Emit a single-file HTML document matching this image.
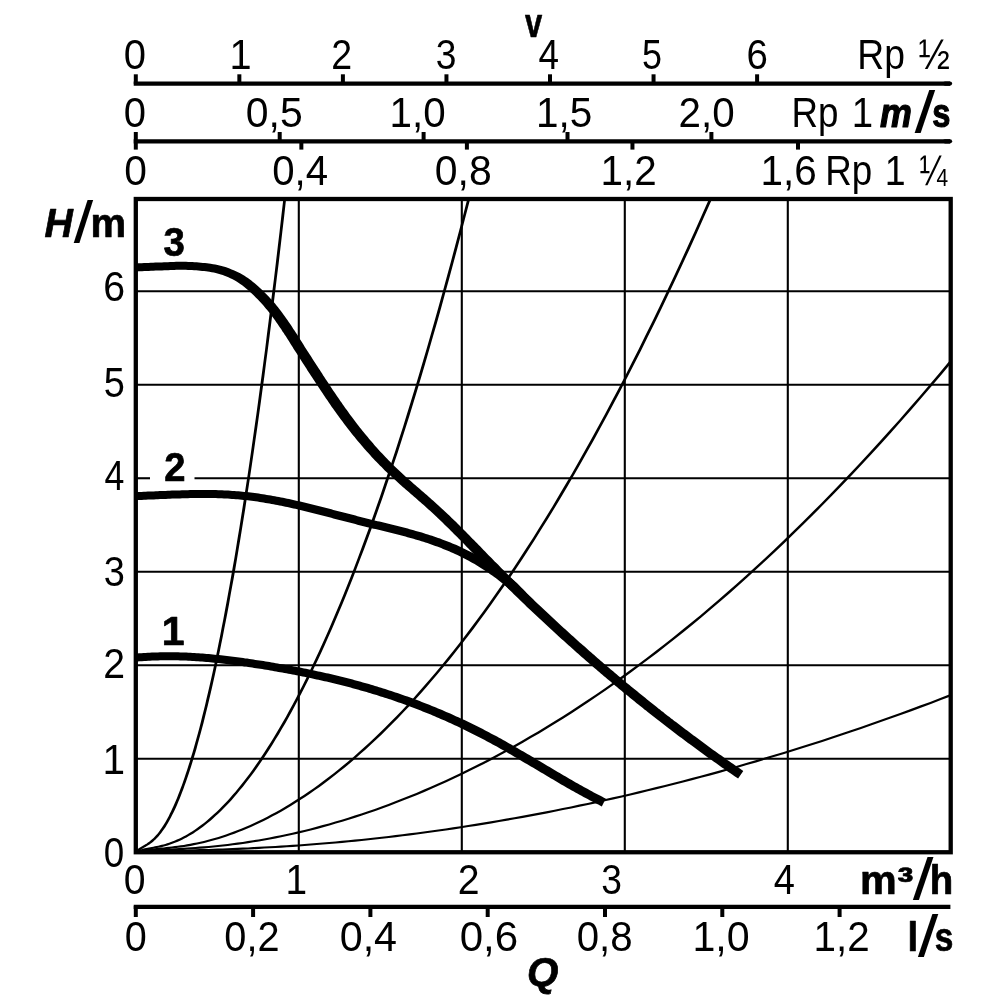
<!DOCTYPE html>
<html lang="de"><head><meta charset="utf-8"><title>Pumpenkennlinie</title>
<style>html,body{margin:0;padding:0;background:#fff}svg{display:block}text{font-family:"Liberation Sans",sans-serif;fill:#000;white-space:pre}.n{font-size:41px}.b{font-weight:bold}.bi{font-weight:bold;font-style:italic}.b,.bi{stroke:#000;stroke-width:.7px;stroke-linejoin:round}.h{stroke-width:1.2px}.sl{stroke-width:0}</style></head><body>
<svg width="1000" height="1000" viewBox="0 0 1000 1000">
<rect width="1000" height="1000" fill="#fff"/>
<g stroke="#000" stroke-width="2.1" fill="none">
<line x1="298.80" y1="199.00" x2="298.80" y2="852.25"/>
<line x1="461.80" y1="199.00" x2="461.80" y2="852.25"/>
<line x1="624.80" y1="199.00" x2="624.80" y2="852.25"/>
<line x1="787.80" y1="199.00" x2="787.80" y2="852.25"/>
<line x1="135.80" y1="758.75" x2="950.70" y2="758.75"/>
<line x1="135.80" y1="665.25" x2="950.70" y2="665.25"/>
<line x1="135.80" y1="571.75" x2="950.70" y2="571.75"/>
<line x1="135.80" y1="384.75" x2="950.70" y2="384.75"/>
<line x1="135.80" y1="291.25" x2="950.70" y2="291.25"/>
<line x1="135.80" y1="478.25" x2="150" y2="478.25"/>
<line x1="194.5" y1="478.25" x2="950.70" y2="478.25"/>
</g>
<g fill="#000" stroke="none">
<path d="M136.7,853.1 L136.8,853.0 L137.0,852.8 L137.2,852.6 L137.5,852.3 L137.9,852.0 L138.2,851.7 L138.6,851.3 L139.1,851.0 L139.5,850.6 L140.0,850.3 L140.6,849.9 L141.1,849.6 L141.7,849.2 L142.3,848.8 L143.0,848.4 L143.6,848.0 L144.3,847.6 L145.0,847.2 L145.8,846.8 L146.5,846.3 L147.3,845.8 L148.1,845.3 L149.0,844.8 L149.8,844.2 L150.7,843.6 L151.5,842.9 L152.5,842.2 L153.4,841.4 L154.3,840.6 L155.3,839.7 L156.2,838.8 L157.2,837.8 L158.2,836.7 L159.2,835.5 L160.2,834.3 L161.3,833.0 L162.3,831.6 L163.4,830.1 L164.5,828.5 L165.6,826.9 L166.7,825.1 L167.8,823.3 L168.9,821.3 L170.0,819.2 L171.2,817.1 L172.3,814.8 L173.5,812.5 L174.7,810.0 L175.9,807.4 L177.1,804.7 L178.3,801.8 L179.5,798.9 L180.8,795.8 L182.0,792.6 L183.3,789.3 L184.5,785.8 L185.8,782.3 L187.1,778.6 L188.4,774.7 L189.7,770.7 L191.1,766.6 L192.4,762.3 L193.7,757.9 L195.1,753.4 L196.5,748.7 L197.8,743.8 L199.2,738.8 L200.6,733.7 L202.0,728.4 L203.5,722.9 L204.9,717.3 L206.3,711.5 L207.8,705.6 L209.2,699.4 L210.7,693.2 L212.2,686.7 L213.7,680.1 L215.2,673.3 L216.7,666.3 L218.2,659.1 L219.7,651.8 L221.2,644.3 L222.8,636.5 L224.3,628.6 L225.9,620.5 L227.5,612.3 L229.1,603.8 L230.6,595.1 L232.2,586.2 L233.9,577.2 L235.5,567.9 L237.1,558.4 L238.7,548.7 L240.4,538.8 L242.0,528.7 L243.7,518.3 L245.4,507.8 L247.0,497.0 L248.7,486.0 L250.4,474.8 L252.1,463.3 L253.8,451.7 L255.5,439.7 L257.3,427.6 L259.0,415.2 L260.8,402.6 L262.5,389.8 L264.3,376.7 L266.0,363.3 L267.8,349.7 L269.6,335.9 L271.4,321.8 L273.2,307.5 L275.0,292.9 L276.8,278.0 L278.7,262.9 L280.5,247.5 L282.3,231.9 L284.2,216.0 L286.0,199.8 L283.3,199.5 L281.4,215.6 L279.6,231.5 L277.7,247.2 L275.9,262.6 L274.1,277.7 L272.2,292.5 L270.4,307.1 L268.6,321.5 L266.8,335.5 L265.1,349.4 L263.3,363.0 L261.5,376.3 L259.7,389.4 L258.0,402.2 L256.3,414.8 L254.5,427.2 L252.8,439.3 L251.1,451.3 L249.4,462.9 L247.7,474.4 L246.0,485.6 L244.3,496.6 L242.6,507.3 L240.9,517.9 L239.3,528.2 L237.6,538.3 L236.0,548.2 L234.4,557.9 L232.7,567.4 L231.1,576.7 L229.5,585.7 L227.9,594.6 L226.3,603.3 L224.7,611.7 L223.2,620.0 L221.6,628.1 L220.1,636.0 L218.5,643.7 L217.0,651.2 L215.5,658.6 L214.0,665.7 L212.5,672.7 L211.0,679.5 L209.5,686.1 L208.0,692.5 L206.5,698.8 L205.1,704.9 L203.6,710.9 L202.2,716.6 L200.8,722.2 L199.4,727.7 L198.0,733.0 L196.6,738.1 L195.2,743.1 L193.8,747.9 L192.5,752.6 L191.1,757.1 L189.8,761.5 L188.4,765.8 L187.1,769.9 L185.8,773.8 L184.5,777.7 L183.2,781.4 L182.0,784.9 L180.7,788.3 L179.5,791.6 L178.2,794.8 L177.0,797.9 L175.8,800.8 L174.6,803.6 L173.4,806.3 L172.2,808.8 L171.1,811.3 L169.9,813.6 L168.8,815.9 L167.7,818.0 L166.6,820.0 L165.5,821.9 L164.4,823.7 L163.3,825.5 L162.3,827.1 L161.3,828.6 L160.2,830.1 L159.2,831.4 L158.3,832.7 L157.3,833.9 L156.3,835.0 L155.4,836.1 L154.5,837.0 L153.6,838.0 L152.7,838.8 L151.8,839.6 L150.9,840.3 L150.1,841.0 L149.2,841.7 L148.4,842.3 L147.6,842.8 L146.8,843.4 L146.1,843.9 L145.3,844.3 L144.6,844.8 L143.9,845.2 L143.2,845.6 L142.5,846.1 L141.8,846.4 L141.1,846.8 L140.5,847.2 L139.9,847.6 L139.3,848.0 L138.7,848.3 L138.2,848.7 L137.7,849.1 L137.2,849.5 L136.7,849.8 L136.3,850.2 L135.9,850.5 L135.6,850.8 L135.3,851.0 L135.0,851.3 L134.9,851.4Z"/>
<path d="M136.3,853.3 L136.5,853.2 L137.0,853.0 L137.5,852.7 L138.2,852.4 L139.0,852.1 L139.9,851.8 L140.8,851.5 L141.8,851.3 L142.9,851.0 L144.0,850.7 L145.3,850.4 L146.5,850.1 L147.9,849.9 L149.3,849.6 L150.7,849.3 L152.2,849.0 L153.7,848.7 L155.3,848.4 L157.0,848.1 L158.7,847.7 L160.4,847.4 L162.2,846.9 L164.0,846.5 L165.9,845.9 L167.8,845.4 L169.7,844.8 L171.7,844.1 L173.7,843.3 L175.7,842.5 L177.8,841.7 L180.0,840.7 L182.1,839.7 L184.3,838.6 L186.5,837.4 L188.8,836.1 L191.1,834.8 L193.4,833.4 L195.7,831.8 L198.1,830.2 L200.5,828.5 L203.0,826.7 L205.4,824.8 L207.9,822.8 L210.5,820.7 L213.0,818.4 L215.6,816.1 L218.2,813.7 L220.8,811.2 L223.5,808.5 L226.2,805.7 L228.9,802.9 L231.7,799.9 L234.4,796.8 L237.2,793.5 L240.0,790.1 L242.9,786.7 L245.7,783.0 L248.6,779.3 L251.5,775.4 L254.5,771.4 L257.5,767.2 L260.4,762.9 L263.5,758.5 L266.5,753.9 L269.6,749.2 L272.6,744.4 L275.7,739.3 L278.9,734.2 L282.0,728.8 L285.2,723.4 L288.4,717.7 L291.6,711.9 L294.8,706.0 L298.1,699.8 L301.4,693.5 L304.7,687.1 L308.0,680.4 L311.4,673.6 L314.7,666.6 L318.1,659.4 L321.6,652.1 L325.0,644.6 L328.4,636.8 L331.9,628.9 L335.4,620.8 L338.9,612.5 L342.5,604.1 L346.0,595.4 L349.6,586.5 L353.2,577.4 L356.8,568.1 L360.4,558.6 L364.1,548.9 L367.8,539.0 L371.5,528.9 L375.2,518.6 L378.9,508.0 L382.7,497.2 L386.4,486.2 L390.2,475.0 L394.0,463.6 L397.9,451.9 L401.7,440.0 L405.6,427.8 L409.5,415.4 L413.4,402.8 L417.3,390.0 L421.2,376.9 L425.2,363.5 L429.1,349.9 L433.1,336.1 L437.2,322.0 L441.2,307.7 L445.2,293.1 L449.3,278.2 L453.4,263.1 L457.5,247.7 L461.6,232.1 L465.7,216.1 L469.9,200.0 L467.2,199.3 L463.1,215.5 L458.9,231.4 L454.8,247.0 L450.7,262.4 L446.6,277.5 L442.6,292.3 L438.5,306.9 L434.5,321.3 L430.5,335.3 L426.5,349.2 L422.5,362.8 L418.6,376.1 L414.6,389.2 L410.7,402.0 L406.8,414.6 L403.0,427.0 L399.1,439.1 L395.3,451.0 L391.4,462.7 L387.6,474.1 L383.8,485.3 L380.1,496.3 L376.3,507.1 L372.6,517.6 L368.9,528.0 L365.2,538.1 L361.5,548.0 L357.9,557.7 L354.3,567.2 L350.7,576.4 L347.1,585.5 L343.5,594.4 L340.0,603.0 L336.4,611.5 L332.9,619.8 L329.4,627.9 L326.0,635.8 L322.5,643.5 L319.1,651.0 L315.7,658.3 L312.3,665.5 L309.0,672.4 L305.6,679.2 L302.3,685.9 L299.0,692.3 L295.8,698.6 L292.5,704.7 L289.3,710.6 L286.1,716.4 L282.9,722.0 L279.7,727.5 L276.6,732.8 L273.5,738.0 L270.4,743.0 L267.3,747.8 L264.3,752.5 L261.3,757.1 L258.3,761.5 L255.3,765.7 L252.4,769.9 L249.5,773.9 L246.6,777.7 L243.7,781.5 L240.9,785.1 L238.1,788.5 L235.3,791.9 L232.5,795.1 L229.8,798.2 L227.1,801.2 L224.4,804.0 L221.7,806.8 L219.1,809.4 L216.5,811.9 L213.9,814.3 L211.4,816.6 L208.9,818.8 L206.4,820.9 L204.0,822.9 L201.5,824.8 L199.1,826.6 L196.8,828.3 L194.4,829.9 L192.1,831.4 L189.9,832.8 L187.6,834.2 L185.4,835.4 L183.3,836.6 L181.1,837.7 L179.0,838.7 L176.9,839.6 L174.9,840.5 L172.9,841.3 L170.9,842.0 L169.0,842.7 L167.1,843.3 L165.3,843.9 L163.4,844.4 L161.7,844.8 L159.9,845.3 L158.2,845.7 L156.5,846.0 L154.9,846.3 L153.3,846.7 L151.8,847.0 L150.3,847.2 L148.9,847.5 L147.5,847.8 L146.1,848.0 L144.8,848.3 L143.6,848.6 L142.4,848.9 L141.2,849.2 L140.2,849.5 L139.2,849.8 L138.3,850.1 L137.4,850.4 L136.7,850.7 L136.1,850.9 L135.6,851.1 L135.3,851.2Z"/>
<path d="M136.1,853.3 L136.5,853.2 L137.3,853.0 L138.3,852.8 L139.5,852.5 L140.9,852.2 L142.4,852.0 L144.1,851.7 L145.8,851.4 L147.7,851.2 L149.7,850.9 L151.9,850.7 L154.1,850.5 L156.4,850.2 L158.8,850.0 L161.3,849.7 L163.9,849.5 L166.5,849.2 L169.3,848.9 L172.1,848.6 L175.0,848.2 L178.0,847.8 L181.0,847.4 L184.2,846.9 L187.4,846.4 L190.6,845.9 L193.9,845.2 L197.3,844.5 L200.8,843.8 L204.3,843.0 L207.9,842.1 L211.5,841.1 L215.2,840.1 L219.0,839.0 L222.8,837.8 L226.6,836.5 L230.6,835.1 L234.5,833.7 L238.6,832.1 L242.7,830.5 L246.8,828.8 L251.0,826.9 L255.2,825.0 L259.5,823.0 L263.8,820.9 L268.2,818.7 L272.7,816.3 L277.2,813.9 L281.7,811.4 L286.3,808.7 L290.9,805.9 L295.6,803.1 L300.3,800.1 L305.1,796.9 L309.9,793.7 L314.7,790.3 L319.6,786.9 L324.6,783.2 L329.5,779.5 L334.6,775.6 L339.6,771.6 L344.8,767.4 L349.9,763.2 L355.1,758.7 L360.3,754.1 L365.6,749.4 L370.9,744.6 L376.3,739.5 L381.7,734.4 L387.1,729.1 L392.6,723.6 L398.1,717.9 L403.7,712.1 L409.3,706.2 L414.9,700.0 L420.6,693.8 L426.3,687.3 L432.0,680.6 L437.8,673.8 L443.6,666.8 L449.5,659.7 L455.4,652.3 L461.3,644.8 L467.3,637.1 L473.3,629.2 L479.3,621.1 L485.4,612.8 L491.5,604.3 L497.6,595.6 L503.8,586.7 L510.0,577.7 L516.2,568.4 L522.5,558.9 L528.8,549.2 L535.2,539.3 L541.5,529.1 L548.0,518.8 L554.4,508.2 L560.9,497.5 L567.4,486.5 L573.9,475.2 L580.5,463.8 L587.1,452.1 L593.8,440.2 L600.4,428.0 L607.1,415.7 L613.9,403.1 L620.7,390.2 L627.5,377.1 L634.3,363.7 L641.2,350.2 L648.0,336.3 L655.0,322.2 L661.9,307.9 L668.9,293.3 L675.9,278.4 L683.0,263.3 L690.1,247.9 L697.2,232.3 L704.3,216.3 L711.5,200.2 L709.0,199.1 L701.8,215.3 L694.7,231.2 L687.6,246.8 L680.5,262.2 L673.5,277.3 L666.5,292.1 L659.5,306.7 L652.6,321.0 L645.6,335.1 L638.8,349.0 L631.9,362.5 L625.1,375.9 L618.3,389.0 L611.5,401.8 L604.8,414.4 L598.1,426.8 L591.4,438.9 L584.8,450.8 L578.2,462.5 L571.7,473.9 L565.1,485.1 L558.6,496.1 L552.2,506.9 L545.7,517.4 L539.3,527.7 L533.0,537.9 L526.6,547.8 L520.3,557.4 L514.1,566.9 L507.8,576.2 L501.6,585.3 L495.5,594.1 L489.4,602.8 L483.3,611.3 L477.2,619.5 L471.2,627.6 L465.2,635.5 L459.3,643.2 L453.4,650.7 L447.5,658.1 L441.7,665.2 L435.9,672.2 L430.1,679.0 L424.4,685.6 L418.7,692.1 L413.1,698.4 L407.4,704.5 L401.9,710.4 L396.3,716.2 L390.8,721.8 L385.4,727.3 L380.0,732.6 L374.6,737.8 L369.3,742.8 L364.0,747.6 L358.7,752.3 L353.5,756.9 L348.4,761.3 L343.2,765.6 L338.1,769.7 L333.1,773.7 L328.1,777.6 L323.1,781.3 L318.2,784.9 L313.4,788.4 L308.5,791.8 L303.8,795.0 L299.0,798.1 L294.3,801.1 L289.7,804.0 L285.1,806.7 L280.6,809.4 L276.1,811.9 L271.6,814.3 L267.2,816.7 L262.8,818.9 L258.5,821.0 L254.3,823.0 L250.1,824.9 L245.9,826.7 L241.8,828.4 L237.8,830.1 L233.8,831.6 L229.8,833.1 L225.9,834.4 L222.1,835.7 L218.3,836.9 L214.6,838.0 L210.9,839.0 L207.3,840.0 L203.8,840.9 L200.3,841.7 L196.9,842.5 L193.5,843.1 L190.2,843.8 L187.0,844.3 L183.8,844.9 L180.7,845.3 L177.7,845.7 L174.8,846.1 L171.9,846.5 L169.1,846.8 L166.3,847.1 L163.7,847.4 L161.1,847.6 L158.6,847.9 L156.2,848.1 L153.9,848.4 L151.6,848.6 L149.5,848.8 L147.5,849.1 L145.5,849.3 L143.7,849.6 L142.0,849.9 L140.5,850.2 L139.1,850.4 L137.8,850.7 L136.8,850.9 L136.0,851.1 L135.5,851.2Z"/>
<path d="M135.9,853.3 L136.5,853.2 L137.7,853.1 L139.1,852.9 L140.9,852.8 L142.8,852.6 L145.0,852.4 L147.4,852.2 L149.9,852.0 L152.6,851.8 L155.5,851.6 L158.5,851.4 L161.6,851.2 L164.9,851.0 L168.3,850.8 L171.9,850.6 L175.5,850.4 L179.3,850.1 L183.2,849.9 L187.2,849.6 L191.3,849.4 L195.5,849.1 L199.9,848.7 L204.3,848.4 L208.8,848.0 L213.4,847.5 L218.1,847.0 L222.9,846.5 L227.8,846.0 L232.8,845.3 L237.8,844.7 L243.0,844.0 L248.2,843.2 L253.5,842.3 L258.9,841.4 L264.4,840.5 L269.9,839.5 L275.5,838.4 L281.2,837.2 L287.0,836.0 L292.9,834.7 L298.8,833.4 L304.8,831.9 L310.9,830.4 L317.0,828.9 L323.2,827.2 L329.5,825.5 L335.9,823.6 L342.3,821.7 L348.8,819.7 L355.3,817.7 L362.0,815.5 L368.6,813.3 L375.4,810.9 L382.2,808.5 L389.1,806.0 L396.0,803.3 L403.0,800.6 L410.1,797.8 L417.2,794.9 L424.4,791.9 L431.6,788.8 L438.9,785.5 L446.3,782.2 L453.7,778.8 L461.2,775.2 L468.7,771.6 L476.3,767.8 L484.0,763.9 L491.7,759.9 L499.4,755.8 L507.3,751.6 L515.1,747.2 L523.1,742.7 L531.0,738.1 L539.1,733.4 L547.2,728.5 L555.3,723.5 L563.5,718.4 L571.8,713.2 L580.1,707.8 L588.4,702.3 L596.8,696.6 L605.3,690.8 L613.8,684.8 L622.4,678.8 L631.0,672.5 L639.6,666.1 L648.3,659.6 L657.1,652.9 L665.9,646.1 L674.8,639.1 L683.7,632.0 L692.6,624.7 L701.6,617.2 L710.7,609.6 L719.8,601.8 L728.9,593.9 L738.1,585.8 L747.3,577.5 L756.6,569.1 L765.9,560.5 L775.3,551.7 L784.8,542.7 L794.2,533.6 L803.7,524.3 L813.3,514.8 L822.9,505.1 L832.5,495.3 L842.2,485.2 L852.0,475.0 L861.8,464.6 L871.6,454.0 L881.5,443.2 L891.4,432.2 L901.3,421.0 L911.3,409.7 L921.4,398.1 L931.5,386.3 L941.6,374.4 L951.8,362.2 L949.8,360.6 L939.7,372.7 L929.5,384.7 L919.5,396.5 L909.4,408.0 L899.5,419.4 L889.5,430.5 L879.6,441.5 L869.8,452.3 L859.9,462.9 L850.2,473.3 L840.4,483.5 L830.8,493.5 L821.1,503.4 L811.5,513.0 L802.0,522.5 L792.5,531.8 L783.0,540.9 L773.6,549.9 L764.3,558.7 L755.0,567.3 L745.7,575.7 L736.5,584.0 L727.3,592.1 L718.2,600.0 L709.1,607.8 L700.1,615.4 L691.1,622.8 L682.1,630.1 L673.3,637.2 L664.4,644.2 L655.6,651.0 L646.9,657.7 L638.2,664.2 L629.6,670.6 L621.0,676.8 L612.4,682.9 L603.9,688.9 L595.5,694.7 L587.1,700.3 L578.8,705.8 L570.5,711.2 L562.3,716.5 L554.1,721.6 L546.0,726.6 L537.9,731.4 L529.9,736.1 L521.9,740.7 L514.0,745.2 L506.2,749.6 L498.4,753.8 L490.6,757.9 L482.9,761.9 L475.3,765.8 L467.7,769.6 L460.2,773.2 L452.8,776.8 L445.4,780.2 L438.0,783.5 L430.7,786.7 L423.5,789.8 L416.3,792.9 L409.2,795.8 L402.2,798.6 L395.2,801.3 L388.3,803.9 L381.4,806.4 L374.7,808.9 L367.9,811.2 L361.3,813.4 L354.7,815.6 L348.1,817.7 L341.7,819.7 L335.3,821.6 L328.9,823.4 L322.7,825.1 L316.5,826.8 L310.4,828.4 L304.3,829.9 L298.3,831.3 L292.4,832.7 L286.6,833.9 L280.8,835.2 L275.1,836.3 L269.5,837.4 L264.0,838.4 L258.5,839.4 L253.2,840.2 L247.9,841.1 L242.7,841.9 L237.5,842.6 L232.5,843.2 L227.5,843.9 L222.7,844.4 L217.9,844.9 L213.2,845.4 L208.6,845.9 L204.1,846.3 L199.7,846.6 L195.4,847.0 L191.2,847.3 L187.1,847.5 L183.1,847.8 L179.2,848.0 L175.4,848.3 L171.8,848.5 L168.2,848.7 L164.8,848.9 L161.5,849.1 L158.4,849.3 L155.3,849.5 L152.5,849.7 L149.7,849.9 L147.2,850.1 L144.8,850.3 L142.6,850.5 L140.7,850.7 L138.9,850.8 L137.4,851.0 L136.3,851.1 L135.7,851.2Z"/>
<path d="M135.9,853.3 L136.5,853.3 L137.6,853.2 L139.1,853.1 L140.8,853.1 L142.8,853.0 L145.0,852.9 L147.3,852.8 L149.9,852.7 L152.6,852.6 L155.4,852.5 L158.5,852.4 L161.6,852.3 L164.9,852.2 L168.3,852.1 L171.8,852.0 L175.5,851.9 L179.3,851.8 L183.2,851.7 L187.2,851.6 L191.3,851.5 L195.5,851.4 L199.8,851.2 L204.2,851.1 L208.7,851.0 L213.3,850.8 L218.0,850.7 L222.8,850.5 L227.7,850.3 L232.7,850.1 L237.7,849.9 L242.9,849.7 L248.1,849.5 L253.4,849.2 L258.8,848.9 L264.2,848.6 L269.8,848.3 L275.4,848.0 L281.1,847.7 L286.9,847.3 L292.7,846.9 L298.6,846.5 L304.6,846.1 L310.7,845.6 L316.8,845.1 L323.0,844.6 L329.3,844.1 L335.7,843.5 L342.1,842.9 L348.6,842.3 L355.1,841.7 L361.7,841.0 L368.4,840.3 L375.1,839.5 L381.9,838.8 L388.8,838.0 L395.7,837.2 L402.7,836.3 L409.8,835.4 L416.9,834.5 L424.1,833.5 L431.3,832.6 L438.6,831.5 L446.0,830.5 L453.4,829.4 L460.9,828.3 L468.4,827.1 L476.0,825.9 L483.6,824.7 L491.3,823.4 L499.1,822.1 L506.9,820.7 L514.8,819.3 L522.7,817.9 L530.7,816.4 L538.7,814.9 L546.8,813.4 L554.9,811.8 L563.1,810.1 L571.4,808.5 L579.6,806.7 L588.0,805.0 L596.4,803.2 L604.8,801.3 L613.3,799.4 L621.9,797.5 L630.5,795.5 L639.2,793.4 L647.9,791.3 L656.6,789.2 L665.4,787.0 L674.3,784.8 L683.2,782.5 L692.1,780.2 L701.1,777.8 L710.2,775.4 L719.3,772.9 L728.4,770.3 L737.6,767.7 L746.8,765.1 L756.1,762.4 L765.4,759.6 L774.8,756.8 L784.2,754.0 L793.7,751.0 L803.2,748.1 L812.8,745.0 L822.4,741.9 L832.0,738.8 L841.7,735.6 L851.4,732.3 L861.2,729.0 L871.0,725.6 L880.9,722.1 L890.8,718.6 L900.8,715.0 L910.8,711.4 L920.8,707.7 L930.9,703.9 L941.0,700.1 L951.2,696.2 L950.4,694.1 L940.2,698.0 L930.1,701.9 L920.0,705.6 L910.0,709.3 L900.0,713.0 L890.1,716.5 L880.2,720.1 L870.3,723.5 L860.5,726.9 L850.7,730.2 L841.0,733.5 L831.3,736.7 L821.7,739.9 L812.1,742.9 L802.5,746.0 L793.0,749.0 L783.6,751.9 L774.2,754.7 L764.8,757.6 L755.5,760.3 L746.2,763.0 L737.0,765.7 L727.8,768.2 L718.7,770.8 L709.6,773.3 L700.6,775.7 L691.6,778.1 L682.6,780.4 L673.7,782.7 L664.9,784.9 L656.1,787.1 L647.4,789.3 L638.7,791.3 L630.0,793.4 L621.4,795.4 L612.9,797.3 L604.4,799.2 L595.9,801.1 L587.6,802.9 L579.2,804.6 L570.9,806.4 L562.7,808.0 L554.5,809.7 L546.4,811.3 L538.3,812.8 L530.3,814.3 L522.3,815.8 L514.4,817.2 L506.5,818.6 L498.7,820.0 L491.0,821.3 L483.3,822.6 L475.6,823.8 L468.1,825.0 L460.5,826.2 L453.1,827.3 L445.7,828.4 L438.3,829.4 L431.0,830.5 L423.8,831.4 L416.6,832.4 L409.5,833.3 L402.5,834.2 L395.5,835.1 L388.6,835.9 L381.7,836.7 L374.9,837.4 L368.2,838.2 L361.5,838.9 L354.9,839.6 L348.4,840.2 L341.9,840.8 L335.5,841.4 L329.1,842.0 L322.9,842.5 L316.7,843.0 L310.5,843.5 L304.5,844.0 L298.5,844.4 L292.6,844.8 L286.7,845.2 L281.0,845.6 L275.3,845.9 L269.7,846.2 L264.1,846.5 L258.7,846.8 L253.3,847.1 L248.0,847.4 L242.8,847.6 L237.6,847.8 L232.6,848.0 L227.6,848.2 L222.7,848.4 L218.0,848.6 L213.3,848.7 L208.7,848.9 L204.2,849.0 L199.7,849.1 L195.4,849.3 L191.2,849.4 L187.1,849.5 L183.1,849.6 L179.2,849.7 L175.5,849.8 L171.8,849.9 L168.2,850.0 L164.8,850.1 L161.5,850.2 L158.4,850.3 L155.4,850.4 L152.5,850.5 L149.8,850.6 L147.2,850.7 L144.9,850.8 L142.7,850.9 L140.7,851.0 L139.0,851.0 L137.5,851.1 L136.4,851.2 L135.7,851.2Z"/>
<path d="M136.0,271.4 L137.1,271.4 L138.6,271.3 L140.3,271.2 L142.2,271.2 L144.2,271.1 L146.4,271.0 L148.7,270.9 L151.0,270.8 L153.4,270.7 L155.7,270.6 L158.0,270.5 L160.1,270.5 L162.1,270.4 L164.2,270.3 L166.3,270.2 L168.3,270.2 L170.3,270.1 L172.3,270.0 L174.3,269.9 L176.2,269.8 L178.2,269.8 L180.1,269.8 L182.0,269.7 L184.0,269.8 L185.9,269.8 L187.9,269.9 L189.9,270.0 L192.0,270.1 L194.0,270.2 L196.1,270.3 L198.2,270.5 L200.2,270.7 L202.2,270.9 L204.1,271.1 L206.0,271.3 L207.7,271.6 L209.4,271.8 L211.7,272.2 L213.8,272.6 L215.7,273.0 L217.5,273.4 L219.2,273.9 L220.9,274.5 L222.7,275.1 L224.5,275.8 L226.5,276.5 L228.4,277.3 L230.3,278.2 L232.1,279.1 L234.0,280.0 L235.8,281.1 L237.7,282.2 L239.5,283.4 L241.0,284.5 L242.5,285.6 L244.0,286.7 L245.5,288.0 L247.0,289.2 L248.5,290.6 L250.0,291.9 L251.5,293.3 L253.1,294.8 L254.6,296.3 L256.0,297.7 L257.4,299.1 L258.8,300.6 L260.2,302.1 L261.6,303.6 L263.0,305.1 L264.4,306.7 L265.8,308.4 L267.2,310.1 L268.6,311.8 L270.0,313.6 L271.2,315.1 L272.4,316.8 L273.7,318.5 L275.0,320.3 L276.3,322.2 L277.6,324.1 L278.9,326.0 L280.1,327.8 L281.4,329.6 L282.5,331.4 L283.7,333.1 L284.7,334.7 L285.7,336.1 L287.2,338.4 L288.5,340.4 L289.6,342.2 L290.6,343.9 L291.6,345.5 L292.6,347.1 L293.7,348.9 L294.9,350.7 L296.1,352.5 L297.2,354.3 L298.4,356.1 L299.5,357.9 L300.7,359.7 L301.8,361.4 L302.9,363.2 L304.1,365.0 L305.2,366.8 L306.4,368.6 L307.5,370.4 L308.7,372.2 L309.9,373.9 L311.0,375.7 L312.2,377.5 L313.3,379.3 L314.5,381.0 L315.6,382.8 L316.8,384.6 L317.9,386.3 L319.1,388.1 L320.2,389.8 L321.4,391.6 L322.6,393.3 L323.7,395.0 L324.9,396.7 L326.0,398.4 L327.2,400.1 L328.3,401.8 L329.5,403.5 L330.7,405.2 L331.8,406.9 L333.0,408.5 L334.2,410.2 L335.5,412.1 L336.9,414.0 L338.2,415.8 L339.6,417.7 L340.9,419.5 L342.3,421.3 L343.7,423.2 L345.0,424.9 L346.4,426.7 L347.7,428.5 L349.1,430.2 L350.5,432.0 L351.8,433.7 L353.2,435.4 L354.6,437.0 L355.9,438.7 L357.3,440.4 L358.6,442.0 L360.0,443.6 L361.4,445.2 L362.7,446.8 L364.1,448.4 L365.5,449.9 L366.8,451.5 L368.5,453.3 L370.1,455.1 L371.7,456.9 L373.4,458.7 L375.0,460.4 L376.6,462.1 L378.3,463.8 L379.9,465.5 L381.6,467.1 L383.2,468.8 L384.8,470.4 L386.5,472.0 L388.1,473.5 L389.7,475.1 L391.4,476.6 L393.0,478.1 L394.7,479.6 L396.3,481.1 L397.9,482.6 L399.5,484.0 L401.2,485.5 L402.8,486.9 L404.4,488.3 L406.0,489.7 L407.6,491.1 L409.3,492.6 L410.9,494.0 L412.5,495.3 L414.1,496.7 L415.7,498.1 L417.3,499.5 L418.9,500.9 L420.5,502.3 L422.1,503.7 L423.7,505.1 L425.3,506.6 L426.9,508.0 L428.5,509.4 L430.1,510.8 L431.7,512.3 L433.3,513.8 L434.9,515.2 L436.5,516.7 L438.0,518.2 L439.6,519.8 L441.2,521.3 L442.8,522.8 L444.4,524.4 L446.0,525.9 L447.6,527.5 L449.2,529.1 L450.8,530.7 L452.4,532.3 L454.0,533.9 L455.6,535.5 L457.2,537.1 L458.8,538.7 L460.4,540.3 L462.0,542.0 L463.6,543.6 L465.2,545.3 L466.8,546.9 L468.4,548.5 L470.0,550.2 L471.6,551.8 L473.3,553.5 L474.9,555.1 L476.5,556.8 L478.1,558.4 L479.7,560.1 L481.3,561.7 L482.9,563.4 L484.5,565.0 L486.2,566.7 L487.8,568.3 L489.4,569.9 L491.0,571.5 L492.6,573.2 L494.2,574.8 L495.8,576.4 L497.5,578.0 L499.1,579.6 L500.7,581.2 L502.3,582.8 L503.9,584.4 L505.5,586.0 L507.1,587.6 L508.8,589.2 L510.4,590.8 L512.0,592.3 L513.6,593.9 L515.2,595.5 L516.8,597.1 L518.4,598.6 L520.1,600.2 L521.7,601.7 L523.3,603.3 L524.9,604.8 L526.5,606.4 L528.1,607.9 L529.8,609.4 L531.4,611.0 L533.0,612.5 L534.6,614.0 L536.2,615.5 L537.8,617.1 L539.4,618.6 L541.1,620.1 L542.7,621.6 L544.3,623.1 L545.9,624.6 L547.5,626.1 L549.1,627.6 L550.7,629.1 L552.4,630.6 L554.0,632.0 L555.6,633.5 L557.2,635.0 L558.8,636.5 L560.4,637.9 L562.1,639.4 L563.7,640.8 L565.3,642.3 L566.9,643.7 L568.5,645.2 L570.1,646.6 L571.7,648.1 L573.4,649.5 L575.0,651.0 L576.6,652.4 L578.2,653.8 L579.8,655.2 L581.4,656.7 L583.0,658.1 L584.7,659.5 L586.3,660.9 L587.9,662.3 L589.5,663.7 L591.1,665.1 L592.7,666.5 L594.4,667.9 L596.0,669.3 L597.6,670.7 L599.2,672.0 L600.8,673.4 L602.4,674.8 L604.0,676.2 L605.7,677.5 L607.3,678.9 L608.9,680.3 L610.5,681.6 L612.1,683.0 L613.7,684.3 L615.3,685.7 L617.0,687.0 L618.6,688.4 L620.2,689.7 L621.8,691.0 L623.4,692.4 L625.0,693.7 L626.7,695.0 L628.3,696.3 L629.9,697.7 L631.5,699.0 L633.1,700.3 L634.7,701.6 L636.3,702.9 L638.0,704.2 L639.6,705.5 L641.2,706.8 L642.8,708.1 L644.4,709.4 L646.0,710.6 L647.7,711.9 L649.3,713.2 L650.9,714.5 L652.5,715.7 L654.1,717.0 L655.7,718.3 L657.3,719.5 L659.0,720.8 L660.6,722.1 L662.2,723.3 L663.8,724.6 L665.4,725.8 L667.0,727.0 L668.6,728.3 L670.3,729.5 L671.9,730.8 L673.5,732.0 L675.1,733.2 L676.7,734.4 L678.3,735.7 L680.0,736.9 L681.6,738.1 L683.2,739.3 L684.8,740.5 L686.4,741.7 L688.0,742.9 L689.6,744.1 L691.7,745.6 L693.7,747.1 L695.7,748.6 L697.7,750.1 L699.7,751.5 L701.8,753.0 L703.8,754.5 L705.8,755.9 L707.8,757.4 L709.8,758.8 L711.9,760.3 L713.9,761.7 L715.9,763.1 L717.9,764.6 L719.9,766.0 L721.9,767.4 L724.0,768.8 L726.0,770.3 L728.0,771.7 L730.0,773.1 L732.2,774.6 L734.6,776.2 L736.6,777.6 L738.1,778.6 L743.3,771.1 L741.9,770.1 L739.8,768.6 L737.5,767.0 L735.3,765.5 L733.3,764.1 L731.3,762.7 L729.3,761.3 L727.3,759.9 L725.3,758.5 L723.3,757.0 L721.3,755.6 L719.2,754.2 L717.2,752.7 L715.2,751.3 L713.2,749.9 L711.2,748.4 L709.2,747.0 L707.2,745.5 L705.2,744.0 L703.2,742.6 L701.2,741.1 L699.2,739.6 L697.2,738.1 L695.2,736.6 L693.6,735.4 L692.0,734.2 L690.4,733.0 L688.8,731.8 L687.2,730.6 L685.6,729.4 L684.0,728.2 L682.4,727.0 L680.8,725.8 L679.2,724.5 L677.6,723.3 L676.0,722.1 L674.3,720.9 L672.7,719.6 L671.1,718.4 L669.5,717.1 L667.9,715.9 L666.3,714.7 L664.7,713.4 L663.1,712.1 L661.5,710.9 L659.9,709.6 L658.3,708.4 L656.7,707.1 L655.1,705.8 L653.5,704.6 L651.9,703.3 L650.3,702.0 L648.7,700.7 L647.1,699.4 L645.5,698.1 L643.9,696.8 L642.3,695.5 L640.7,694.2 L639.1,692.9 L637.5,691.6 L635.9,690.3 L634.3,689.0 L632.7,687.7 L631.1,686.4 L629.5,685.1 L627.8,683.7 L626.2,682.4 L624.6,681.1 L623.0,679.7 L621.4,678.4 L619.8,677.0 L618.2,675.7 L616.6,674.3 L615.0,673.0 L613.4,671.6 L611.8,670.3 L610.2,668.9 L608.6,667.5 L607.0,666.2 L605.4,664.8 L603.8,663.4 L602.2,662.0 L600.6,660.7 L599.0,659.3 L597.4,657.9 L595.8,656.5 L594.2,655.1 L592.6,653.7 L591.0,652.3 L589.4,650.9 L587.8,649.5 L586.2,648.0 L584.6,646.6 L583.0,645.2 L581.3,643.8 L579.7,642.4 L578.1,640.9 L576.5,639.5 L574.9,638.0 L573.3,636.6 L571.7,635.2 L570.1,633.7 L568.5,632.2 L566.9,630.8 L565.3,629.3 L563.7,627.9 L562.1,626.4 L560.5,624.9 L558.9,623.4 L557.3,622.0 L555.7,620.5 L554.1,619.0 L552.5,617.5 L550.9,616.0 L549.3,614.5 L547.7,613.0 L546.1,611.5 L544.5,610.0 L542.9,608.5 L541.3,607.0 L539.7,605.5 L538.0,603.9 L536.4,602.4 L534.8,600.9 L533.2,599.3 L531.6,597.8 L530.0,596.3 L528.4,594.7 L526.8,593.2 L525.2,591.6 L523.6,590.1 L522.0,588.5 L520.4,586.9 L518.8,585.4 L517.2,583.8 L515.6,582.2 L514.0,580.6 L512.4,579.1 L510.8,577.5 L509.2,575.9 L507.6,574.3 L506.0,572.7 L504.4,571.1 L502.8,569.5 L501.2,567.9 L499.6,566.3 L498.0,564.6 L496.4,563.0 L494.7,561.4 L493.1,559.8 L491.5,558.1 L489.9,556.5 L488.3,554.9 L486.7,553.2 L485.1,551.6 L483.5,549.9 L481.9,548.3 L480.3,546.6 L478.7,545.0 L477.1,543.3 L475.5,541.7 L473.9,540.0 L472.2,538.4 L470.6,536.7 L469.0,535.1 L467.4,533.5 L465.8,531.8 L464.2,530.2 L462.5,528.6 L460.9,526.9 L459.3,525.3 L457.7,523.7 L456.1,522.1 L454.4,520.5 L452.8,519.0 L451.2,517.4 L449.6,515.8 L447.9,514.3 L446.3,512.7 L444.7,511.2 L443.1,509.7 L441.4,508.2 L439.8,506.7 L438.2,505.2 L436.5,503.7 L434.9,502.2 L433.3,500.8 L431.7,499.4 L430.1,497.9 L428.4,496.5 L426.8,495.1 L425.2,493.7 L423.6,492.3 L422.0,490.9 L420.4,489.5 L418.7,488.1 L417.1,486.7 L415.5,485.3 L413.9,483.9 L412.3,482.5 L410.7,481.1 L409.1,479.7 L407.5,478.3 L406.0,476.9 L404.4,475.4 L402.8,474.0 L401.2,472.5 L399.6,471.0 L398.0,469.5 L396.4,468.0 L394.8,466.5 L393.3,465.0 L391.7,463.4 L390.1,461.8 L388.5,460.2 L386.9,458.6 L385.4,457.0 L383.8,455.3 L382.2,453.6 L380.6,451.9 L379.0,450.2 L377.5,448.4 L375.9,446.7 L374.3,444.9 L373.0,443.3 L371.7,441.8 L370.3,440.3 L369.0,438.7 L367.7,437.1 L366.4,435.5 L365.1,433.9 L363.7,432.3 L362.4,430.7 L361.1,429.0 L359.8,427.4 L358.5,425.7 L357.1,424.0 L355.8,422.3 L354.5,420.5 L353.2,418.8 L351.9,417.0 L350.5,415.2 L349.2,413.4 L347.9,411.6 L346.6,409.8 L345.2,407.9 L343.9,406.1 L342.6,404.2 L341.5,402.6 L340.3,401.0 L339.2,399.3 L338.0,397.6 L336.9,396.0 L335.8,394.3 L334.6,392.6 L333.5,390.9 L332.3,389.2 L331.2,387.5 L330.1,385.8 L328.9,384.1 L327.8,382.3 L326.6,380.6 L325.5,378.9 L324.3,377.1 L323.2,375.4 L322.1,373.6 L320.9,371.8 L319.8,370.0 L318.6,368.3 L317.5,366.5 L316.3,364.7 L315.2,362.9 L314.0,361.2 L312.9,359.4 L311.7,357.6 L310.6,355.8 L309.4,354.0 L308.3,352.2 L307.1,350.5 L306.0,348.7 L304.8,346.9 L303.7,345.1 L302.6,343.3 L301.5,341.6 L300.5,340.0 L299.6,338.4 L298.5,336.7 L297.3,334.8 L295.9,332.7 L294.3,330.3 L293.3,328.9 L292.3,327.3 L291.2,325.6 L290.0,323.8 L288.7,322.0 L287.4,320.1 L286.1,318.2 L284.7,316.3 L283.4,314.4 L282.0,312.5 L280.7,310.7 L279.3,308.9 L278.0,307.2 L276.5,305.4 L275.0,303.6 L273.4,301.8 L271.9,300.1 L270.4,298.5 L268.9,296.8 L267.4,295.3 L265.9,293.7 L264.4,292.2 L262.9,290.7 L261.4,289.3 L259.7,287.7 L258.1,286.2 L256.4,284.8 L254.7,283.3 L253.0,281.9 L251.3,280.6 L249.6,279.3 L247.9,278.1 L246.2,276.9 L244.5,275.8 L242.3,274.5 L240.2,273.3 L238.0,272.2 L235.9,271.2 L233.7,270.3 L231.6,269.4 L229.5,268.6 L227.5,267.8 L225.4,267.1 L223.4,266.5 L221.5,265.9 L219.5,265.4 L217.5,265.0 L215.3,264.6 L213.1,264.2 L210.6,263.8 L208.8,263.6 L207.0,263.3 L205.0,263.1 L203.0,262.9 L200.9,262.7 L198.8,262.5 L196.7,262.3 L194.6,262.2 L192.4,262.1 L190.3,262.0 L188.2,261.9 L186.1,261.8 L184.1,261.8 L182.0,261.7 L180.0,261.8 L178.0,261.8 L176.0,261.8 L174.0,261.9 L172.0,262.0 L170.0,262.1 L168.0,262.2 L166.0,262.2 L163.9,262.3 L161.9,262.4 L159.8,262.5 L157.7,262.5 L155.4,262.6 L153.1,262.7 L150.7,262.8 L148.4,262.9 L146.1,263.0 L143.9,263.1 L141.8,263.2 L139.9,263.2 L138.3,263.3 L136.8,263.4 L135.6,263.4Z"/>
<path d="M135.9,500.1 L137.4,500.0 L139.5,500.0 L141.8,499.9 L144.0,499.8 L146.0,499.7 L148.0,499.6 L150.0,499.5 L152.0,499.5 L154.0,499.4 L156.0,499.3 L158.0,499.2 L160.0,499.1 L162.0,499.0 L164.0,499.0 L166.0,498.9 L168.0,498.8 L170.1,498.7 L172.1,498.6 L174.1,498.6 L176.1,498.5 L178.1,498.4 L180.1,498.4 L182.1,498.3 L184.0,498.3 L186.0,498.2 L188.0,498.2 L190.0,498.1 L192.0,498.1 L194.0,498.0 L196.0,498.0 L198.0,498.0 L200.0,498.0 L202.0,498.0 L204.0,498.0 L206.0,498.0 L208.0,498.0 L210.0,498.0 L212.0,498.1 L213.9,498.1 L215.9,498.1 L217.9,498.2 L219.9,498.3 L221.9,498.3 L223.9,498.4 L225.9,498.5 L227.8,498.6 L229.8,498.7 L231.8,498.9 L233.8,499.0 L235.8,499.2 L237.8,499.3 L239.7,499.5 L241.7,499.7 L243.7,499.9 L245.7,500.1 L247.7,500.3 L249.6,500.6 L251.6,500.8 L253.6,501.1 L255.6,501.3 L257.6,501.6 L259.6,501.9 L261.6,502.2 L263.5,502.5 L265.5,502.9 L267.5,503.2 L269.5,503.6 L271.5,503.9 L273.5,504.3 L275.5,504.7 L277.4,505.0 L279.4,505.4 L281.4,505.8 L283.4,506.2 L285.4,506.7 L287.4,507.1 L289.4,507.5 L291.4,507.9 L293.4,508.4 L295.4,508.8 L297.4,509.3 L299.3,509.8 L301.3,510.2 L303.3,510.7 L305.3,511.2 L307.3,511.7 L309.3,512.2 L311.3,512.7 L313.3,513.2 L315.3,513.7 L317.3,514.2 L319.3,514.7 L321.3,515.2 L323.3,515.8 L325.3,516.3 L327.3,516.8 L329.3,517.3 L331.3,517.8 L333.3,518.4 L335.3,518.9 L337.3,519.4 L339.3,520.0 L341.4,520.5 L343.4,521.0 L345.4,521.5 L347.4,522.1 L349.4,522.6 L351.4,523.1 L353.4,523.6 L355.4,524.1 L357.4,524.7 L359.4,525.2 L361.5,525.7 L363.5,526.2 L365.5,526.7 L367.5,527.2 L369.5,527.7 L371.5,528.2 L373.5,528.7 L375.5,529.1 L377.5,529.6 L379.6,530.1 L381.6,530.6 L383.6,531.1 L385.6,531.6 L387.6,532.1 L389.6,532.5 L391.6,533.0 L393.6,533.5 L395.6,534.0 L397.6,534.5 L399.6,535.1 L401.5,535.6 L403.5,536.1 L405.5,536.6 L407.5,537.2 L409.5,537.7 L411.5,538.3 L413.5,538.8 L415.5,539.4 L417.5,540.0 L419.4,540.6 L421.4,541.2 L423.4,541.8 L425.4,542.5 L427.4,543.1 L429.3,543.8 L431.3,544.5 L433.3,545.2 L435.3,545.9 L437.2,546.6 L439.2,547.3 L441.2,548.1 L443.1,548.9 L445.1,549.7 L447.1,550.5 L449.1,551.3 L451.0,552.2 L453.0,553.0 L455.0,553.9 L456.9,554.8 L458.9,555.8 L460.8,556.7 L462.8,557.7 L464.8,558.7 L466.7,559.8 L468.7,560.8 L470.7,561.9 L472.6,563.0 L474.6,564.1 L476.5,565.3 L478.5,566.5 L480.4,567.7 L482.4,568.9 L484.4,570.2 L486.3,571.5 L488.3,572.8 L490.2,574.2 L492.2,575.6 L494.2,577.0 L495.7,578.1 L497.3,579.3 L498.8,580.5 L500.4,581.7 L502.0,583.0 L503.5,584.2 L505.1,585.5 L506.7,586.8 L508.2,588.2 L509.8,589.5 L511.4,590.8 L513.1,592.1 L514.8,593.4 L516.5,594.7 L518.1,596.1 L519.8,597.4 L521.5,598.8 L523.2,600.3 L524.9,601.7 L526.6,603.2 L528.3,604.7 L530.0,606.2 L531.7,607.8 L533.5,609.4 L535.2,611.0 L536.7,612.4 L538.4,614.0 L540.0,615.7 L541.6,617.2 L542.9,618.5 L543.9,619.4 L546.1,617.5 L545.3,616.4 L544.2,614.9 L542.9,613.2 L541.5,611.3 L540.1,609.4 L538.8,607.7 L537.3,605.8 L535.8,604.0 L534.3,602.1 L532.8,600.3 L531.3,598.6 L529.8,596.8 L528.3,595.1 L526.8,593.4 L525.2,591.7 L523.7,590.1 L522.2,588.5 L520.7,586.9 L519.1,585.3 L517.6,583.8 L516.0,582.3 L514.4,580.9 L512.7,579.5 L511.1,578.2 L509.4,576.9 L507.8,575.6 L506.1,574.3 L504.5,573.1 L502.9,571.9 L501.2,570.7 L499.6,569.5 L497.5,568.0 L495.5,566.6 L493.4,565.2 L491.4,563.9 L489.3,562.6 L487.2,561.3 L485.2,560.0 L483.1,558.8 L481.1,557.6 L479.0,556.4 L477.0,555.2 L474.9,554.1 L472.9,553.0 L470.8,552.0 L468.8,550.9 L466.7,549.9 L464.7,548.9 L462.6,547.9 L460.6,547.0 L458.5,546.0 L456.5,545.1 L454.4,544.3 L452.4,543.4 L450.4,542.6 L448.3,541.7 L446.3,540.9 L444.2,540.2 L442.2,539.4 L440.1,538.6 L438.1,537.9 L436.1,537.2 L434.0,536.5 L432.0,535.8 L430.0,535.2 L427.9,534.5 L425.9,533.9 L423.9,533.2 L421.8,532.6 L419.8,532.0 L417.8,531.4 L415.8,530.9 L413.7,530.3 L411.7,529.7 L409.7,529.2 L407.7,528.6 L405.6,528.1 L403.6,527.6 L401.6,527.1 L399.6,526.6 L397.6,526.1 L395.6,525.6 L393.5,525.1 L391.5,524.6 L389.5,524.1 L387.5,523.6 L385.5,523.1 L383.5,522.6 L381.5,522.1 L379.5,521.6 L377.5,521.2 L375.5,520.7 L373.5,520.2 L371.5,519.7 L369.5,519.2 L367.5,518.7 L365.5,518.2 L363.5,517.7 L361.5,517.2 L359.5,516.7 L357.5,516.2 L355.5,515.6 L353.5,515.1 L351.5,514.6 L349.5,514.1 L347.5,513.6 L345.5,513.0 L343.5,512.5 L341.5,512.0 L339.4,511.4 L337.4,510.9 L335.4,510.4 L333.4,509.9 L331.4,509.3 L329.4,508.8 L327.4,508.3 L325.4,507.8 L323.4,507.2 L321.4,506.7 L319.4,506.2 L317.3,505.7 L315.3,505.2 L313.3,504.7 L311.3,504.2 L309.3,503.7 L307.3,503.2 L305.3,502.7 L303.2,502.3 L301.2,501.8 L299.2,501.3 L297.2,500.9 L295.2,500.4 L293.1,500.0 L291.1,499.5 L289.1,499.1 L287.1,498.7 L285.1,498.2 L283.0,497.8 L281.0,497.4 L279.0,497.0 L277.0,496.7 L274.9,496.3 L272.9,495.9 L270.9,495.6 L268.9,495.2 L266.8,494.9 L264.8,494.5 L262.8,494.2 L260.8,493.9 L258.7,493.6 L256.7,493.3 L254.7,493.1 L252.7,492.8 L250.6,492.6 L248.6,492.3 L246.6,492.1 L244.5,491.9 L242.5,491.7 L240.5,491.5 L238.4,491.3 L236.4,491.2 L234.4,491.0 L232.3,490.9 L230.3,490.7 L228.3,490.6 L226.3,490.5 L224.2,490.4 L222.2,490.3 L220.2,490.3 L218.2,490.2 L216.1,490.1 L214.1,490.1 L212.1,490.1 L210.1,490.0 L208.0,490.0 L206.0,490.0 L204.0,490.0 L202.0,490.0 L200.0,490.0 L197.9,490.0 L195.9,490.0 L193.9,490.0 L191.9,490.1 L189.9,490.1 L187.9,490.2 L185.8,490.2 L183.8,490.3 L181.8,490.3 L179.8,490.4 L177.8,490.4 L175.8,490.5 L173.8,490.6 L171.8,490.6 L169.7,490.7 L167.7,490.8 L165.7,490.9 L163.7,491.0 L161.7,491.0 L159.7,491.1 L157.7,491.2 L155.7,491.3 L153.7,491.4 L151.7,491.5 L149.7,491.5 L147.7,491.6 L145.7,491.7 L143.7,491.8 L141.5,491.9 L139.2,492.0 L137.1,492.0 L135.7,492.1Z"/>
<path d="M136.1,661.6 L137.6,661.5 L139.7,661.3 L142.0,661.2 L144.1,661.0 L146.1,660.9 L148.1,660.8 L150.1,660.7 L152.1,660.6 L154.1,660.5 L156.1,660.4 L158.1,660.4 L160.1,660.3 L162.1,660.3 L164.1,660.2 L166.1,660.2 L168.1,660.2 L170.1,660.2 L172.1,660.2 L174.1,660.3 L176.1,660.3 L178.1,660.3 L180.1,660.4 L182.1,660.5 L184.1,660.5 L186.1,660.6 L188.1,660.7 L190.1,660.8 L192.1,660.9 L194.1,661.0 L196.1,661.2 L198.1,661.3 L200.1,661.4 L202.1,661.6 L204.1,661.7 L206.1,661.9 L208.1,662.1 L210.1,662.3 L212.1,662.5 L214.1,662.7 L216.1,662.9 L218.1,663.1 L220.1,663.3 L222.1,663.5 L224.1,663.7 L226.1,664.0 L228.1,664.2 L230.1,664.5 L232.1,664.7 L234.1,665.0 L236.1,665.2 L238.1,665.5 L240.1,665.8 L242.2,666.1 L244.2,666.4 L246.2,666.6 L248.2,666.9 L250.2,667.2 L252.2,667.5 L254.2,667.9 L256.2,668.2 L258.2,668.5 L260.2,668.8 L262.2,669.1 L264.2,669.5 L266.3,669.8 L268.3,670.1 L270.3,670.5 L272.3,670.8 L274.3,671.2 L276.3,671.5 L278.3,671.9 L280.3,672.2 L282.3,672.6 L284.3,672.9 L286.4,673.3 L288.4,673.7 L290.4,674.1 L292.4,674.4 L294.4,674.8 L296.4,675.2 L298.4,675.6 L300.4,676.0 L302.4,676.4 L304.4,676.8 L306.4,677.2 L308.5,677.6 L310.5,678.1 L312.5,678.5 L314.5,678.9 L316.5,679.4 L318.5,679.8 L320.5,680.3 L322.5,680.7 L324.5,681.2 L326.5,681.6 L328.5,682.1 L330.5,682.6 L332.5,683.0 L334.5,683.5 L336.5,684.0 L338.6,684.5 L340.6,685.0 L342.6,685.5 L344.6,686.0 L346.6,686.6 L348.6,687.1 L350.6,687.6 L352.6,688.2 L354.6,688.7 L356.6,689.3 L358.6,689.8 L360.6,690.4 L362.6,690.9 L364.6,691.5 L366.6,692.1 L368.6,692.7 L370.6,693.3 L372.6,693.9 L374.6,694.5 L376.6,695.1 L378.6,695.7 L380.6,696.4 L382.7,697.0 L384.7,697.7 L386.7,698.3 L388.7,699.0 L390.7,699.6 L392.7,700.3 L394.7,701.0 L396.7,701.7 L398.7,702.4 L400.7,703.1 L402.7,703.8 L404.7,704.5 L406.7,705.3 L408.7,706.0 L410.7,706.7 L412.7,707.5 L414.7,708.3 L416.7,709.0 L418.7,709.8 L420.7,710.6 L422.7,711.4 L424.7,712.2 L426.7,713.0 L428.7,713.8 L430.7,714.6 L432.7,715.5 L434.7,716.3 L436.7,717.2 L438.7,718.0 L440.7,718.9 L442.7,719.8 L444.7,720.6 L446.7,721.5 L448.7,722.4 L450.7,723.3 L452.7,724.2 L454.7,725.2 L456.7,726.1 L458.7,727.0 L460.7,728.0 L462.7,729.0 L464.7,729.9 L466.7,730.9 L468.7,731.9 L470.7,732.9 L472.7,733.9 L474.7,734.9 L476.7,735.9 L478.7,736.9 L480.7,738.0 L482.7,739.0 L484.7,740.1 L486.7,741.2 L488.7,742.2 L490.7,743.3 L492.7,744.4 L494.7,745.5 L496.8,746.6 L498.8,747.7 L500.8,748.9 L502.8,750.0 L504.8,751.1 L506.8,752.3 L508.8,753.4 L510.8,754.6 L512.8,755.8 L514.8,756.9 L516.8,758.1 L518.8,759.3 L520.8,760.5 L522.8,761.7 L524.9,762.9 L526.9,764.0 L528.9,765.2 L530.9,766.4 L532.9,767.6 L534.9,768.8 L537.0,770.0 L539.0,771.2 L541.0,772.4 L543.0,773.6 L545.0,774.8 L547.0,776.0 L549.1,777.2 L551.1,778.4 L553.1,779.6 L555.1,780.8 L557.2,782.0 L559.2,783.2 L561.2,784.4 L563.2,785.5 L565.3,786.7 L567.3,787.9 L569.3,789.0 L571.3,790.2 L573.4,791.3 L575.4,792.5 L577.4,793.6 L579.5,794.7 L581.5,795.8 L583.5,796.9 L585.6,798.0 L587.6,799.1 L589.6,800.2 L591.7,801.3 L593.7,802.3 L595.9,803.5 L598.3,804.6 L600.4,805.7 L601.8,806.4 L605.8,798.6 L604.3,797.9 L602.3,796.8 L599.9,795.6 L597.8,794.5 L595.8,793.4 L593.8,792.4 L591.8,791.3 L589.8,790.2 L587.8,789.1 L585.8,788.0 L583.8,786.9 L581.8,785.8 L579.8,784.7 L577.8,783.6 L575.7,782.4 L573.7,781.3 L571.7,780.1 L569.7,779.0 L567.7,777.8 L565.7,776.6 L563.7,775.4 L561.7,774.3 L559.7,773.1 L557.7,771.9 L555.7,770.7 L553.6,769.5 L551.6,768.3 L549.6,767.1 L547.6,765.9 L545.6,764.7 L543.6,763.5 L541.5,762.3 L539.5,761.1 L537.5,759.9 L535.5,758.7 L533.5,757.5 L531.4,756.3 L529.4,755.1 L527.4,753.9 L525.4,752.7 L523.4,751.6 L521.3,750.4 L519.3,749.2 L517.3,748.0 L515.3,746.9 L513.2,745.7 L511.2,744.5 L509.2,743.4 L507.1,742.2 L505.1,741.1 L503.1,740.0 L501.1,738.8 L499.0,737.7 L497.0,736.6 L495.0,735.5 L492.9,734.4 L490.9,733.4 L488.9,732.3 L486.8,731.2 L484.8,730.2 L482.8,729.1 L480.7,728.1 L478.7,727.1 L476.7,726.1 L474.6,725.0 L472.6,724.0 L470.6,723.1 L468.5,722.1 L466.5,721.1 L464.5,720.1 L462.4,719.2 L460.4,718.2 L458.4,717.3 L456.3,716.4 L454.3,715.5 L452.3,714.5 L450.2,713.6 L448.2,712.7 L446.2,711.9 L444.1,711.0 L442.1,710.1 L440.1,709.3 L438.0,708.4 L436.0,707.6 L434.0,706.7 L431.9,705.9 L429.9,705.1 L427.9,704.3 L425.8,703.5 L423.8,702.7 L421.8,701.9 L419.7,701.1 L417.7,700.3 L415.7,699.6 L413.6,698.8 L411.6,698.1 L409.6,697.3 L407.5,696.6 L405.5,695.9 L403.5,695.2 L401.4,694.4 L399.4,693.7 L397.4,693.0 L395.3,692.4 L393.3,691.7 L391.3,691.0 L389.3,690.4 L387.2,689.7 L385.2,689.1 L383.2,688.4 L381.1,687.8 L379.1,687.2 L377.1,686.5 L375.0,685.9 L373.0,685.3 L371.0,684.7 L368.9,684.1 L366.9,683.5 L364.9,683.0 L362.9,682.4 L360.8,681.8 L358.8,681.3 L356.8,680.7 L354.7,680.2 L352.7,679.6 L350.7,679.1 L348.6,678.6 L346.6,678.1 L344.6,677.5 L342.6,677.0 L340.5,676.5 L338.5,676.0 L336.5,675.5 L334.4,675.1 L332.4,674.6 L330.4,674.1 L328.4,673.6 L326.3,673.2 L324.3,672.7 L322.3,672.3 L320.2,671.8 L318.2,671.4 L316.2,670.9 L314.2,670.5 L312.1,670.1 L310.1,669.7 L308.1,669.2 L306.1,668.8 L304.0,668.4 L302.0,668.0 L300.0,667.6 L298.0,667.2 L295.9,666.8 L293.9,666.4 L291.9,666.1 L289.9,665.7 L287.8,665.3 L285.8,664.9 L283.8,664.6 L281.8,664.2 L279.7,663.9 L277.7,663.5 L275.7,663.2 L273.7,662.8 L271.6,662.5 L269.6,662.1 L267.6,661.8 L265.6,661.5 L263.5,661.1 L261.5,660.8 L259.5,660.5 L257.5,660.2 L255.4,659.9 L253.4,659.5 L251.4,659.2 L249.4,658.9 L247.3,658.6 L245.3,658.4 L243.3,658.1 L241.2,657.8 L239.2,657.5 L237.2,657.2 L235.2,657.0 L233.1,656.7 L231.1,656.5 L229.1,656.2 L227.0,656.0 L225.0,655.7 L223.0,655.5 L221.0,655.3 L218.9,655.1 L216.9,654.9 L214.9,654.7 L212.8,654.5 L210.8,654.3 L208.8,654.1 L206.7,653.9 L204.7,653.7 L202.7,653.6 L200.6,653.4 L198.6,653.3 L196.6,653.2 L194.5,653.0 L192.5,652.9 L190.5,652.8 L188.4,652.7 L186.4,652.6 L184.4,652.5 L182.3,652.5 L180.3,652.4 L178.3,652.3 L176.2,652.3 L174.2,652.3 L172.2,652.2 L170.1,652.2 L168.1,652.2 L166.0,652.2 L164.0,652.2 L162.0,652.3 L159.9,652.3 L157.9,652.4 L155.8,652.4 L153.8,652.5 L151.8,652.6 L149.7,652.7 L147.7,652.8 L145.6,652.9 L143.6,653.0 L141.4,653.2 L139.0,653.3 L136.9,653.5 L135.5,653.6Z"/>
</g>
<rect x="135.80" y="199.00" width="814.90" height="653.25" fill="none" stroke="#000" stroke-width="4.3"/>
<g stroke="#000" stroke-width="4.3" fill="none">
<path d="M133.7,83.55H950" /><path d="M945,83.55H950" stroke-linecap="round"/>
<path d="M133.7,141.3H950" /><path d="M945,141.3H950" stroke-linecap="round"/>
<path d="M133.7,906.8H950.4"/>
</g>
<g stroke="#000" stroke-width="4" fill="none">
<line x1="135.80" y1="74.3" x2="135.80" y2="84"/>
<line x1="239.35" y1="74.3" x2="239.35" y2="84"/>
<line x1="342.90" y1="74.3" x2="342.90" y2="84"/>
<line x1="446.45" y1="74.3" x2="446.45" y2="84"/>
<line x1="550.00" y1="74.3" x2="550.00" y2="84"/>
<line x1="653.55" y1="74.3" x2="653.55" y2="84"/>
<line x1="757.10" y1="74.3" x2="757.10" y2="84"/>
<line x1="279.70" y1="132" x2="279.70" y2="142"/>
<line x1="423.60" y1="132" x2="423.60" y2="142"/>
<line x1="567.50" y1="132" x2="567.50" y2="142"/>
<line x1="711.40" y1="132" x2="711.40" y2="142"/>
<line x1="135.80" y1="132" x2="135.80" y2="149.6"/>
<line x1="301.35" y1="141" x2="301.35" y2="149.6"/>
<line x1="466.90" y1="141" x2="466.90" y2="149.6"/>
<line x1="632.45" y1="141" x2="632.45" y2="149.6"/>
<line x1="798.00" y1="141" x2="798.00" y2="149.6"/>
<line x1="135.80" y1="906" x2="135.80" y2="917"/>
<line x1="253.10" y1="906" x2="253.10" y2="917"/>
<line x1="370.40" y1="906" x2="370.40" y2="917"/>
<line x1="487.70" y1="906" x2="487.70" y2="917"/>
<line x1="605.00" y1="906" x2="605.00" y2="917"/>
<line x1="722.30" y1="906" x2="722.30" y2="917"/>
<line x1="839.60" y1="906" x2="839.60" y2="917"/>
</g>
<text class="n" style="font-size:43px" y="68.70" x="123.75" textLength="22.25" lengthAdjust="spacingAndGlyphs">0</text>
<text class="n" style="font-size:43px" y="68.70" x="229.52" textLength="22.09" lengthAdjust="spacingAndGlyphs">1</text>
<text class="n" style="font-size:43px" y="68.70" x="331.24" textLength="20.88" lengthAdjust="spacingAndGlyphs">2</text>
<text class="n" style="font-size:43px" y="68.70" x="435.84" textLength="20.67" lengthAdjust="spacingAndGlyphs">3</text>
<text class="n" style="font-size:43px" y="68.70" x="538.42" textLength="20.49" lengthAdjust="spacingAndGlyphs">4</text>
<text class="n" style="font-size:43px" y="68.70" x="641.88" textLength="19.98" lengthAdjust="spacingAndGlyphs">5</text>
<text class="n" style="font-size:43px" y="68.70" x="746.60" textLength="21.36" lengthAdjust="spacingAndGlyphs">6</text>
<text y="68.70"><tspan class="n" style="font-size:43px" x="857.29" y="68.70" textLength="47.62" lengthAdjust="spacingAndGlyphs">Rp</tspan><tspan class="n" style="font-size:43px" x="907.95" y="68.70" textLength="41.86" lengthAdjust="spacingAndGlyphs"> ½</tspan></text>
<text class="n" style="font-size:43px" y="126.80" x="123.75" textLength="22.25" lengthAdjust="spacingAndGlyphs">0</text>
<text class="n" style="font-size:43px" y="126.80" x="245.72" textLength="56.94" lengthAdjust="spacingAndGlyphs">0,5</text>
<text class="n" style="font-size:43px" y="126.80" x="389.48" textLength="56.13" lengthAdjust="spacingAndGlyphs">1,0</text>
<text class="n" style="font-size:43px" y="126.80" x="535.97" textLength="56.27" lengthAdjust="spacingAndGlyphs">1,5</text>
<text class="n" style="font-size:43px" y="126.80" x="678.51" textLength="56.10" lengthAdjust="spacingAndGlyphs">2,0</text>
<text y="126.80"><tspan class="n" style="font-size:43px" x="791.53" y="126.80" textLength="46.96" lengthAdjust="spacingAndGlyphs">Rp</tspan><tspan class="n" style="font-size:43px" x="841.13" y="126.80" textLength="32.02" lengthAdjust="spacingAndGlyphs"> 1</tspan></text>
<text y="127.20"><tspan class="bi h" style="font-size:40px" x="879.94" y="127.20" textLength="31.83" lengthAdjust="spacingAndGlyphs">m</tspan><tspan class="bi sl" style="font-size:57px" x="916.60" y="132.30" textLength="14.22" lengthAdjust="spacingAndGlyphs">/</tspan><tspan class="b h" style="font-size:40px" x="932.28" y="127.20" textLength="18.14" lengthAdjust="spacingAndGlyphs">s</tspan></text>
<text class="n" style="font-size:43px" y="184.80" x="124.32" textLength="22.69" lengthAdjust="spacingAndGlyphs">0</text>
<text class="n" style="font-size:43px" y="184.80" x="272.14" textLength="55.86" lengthAdjust="spacingAndGlyphs">0,4</text>
<text class="n" style="font-size:43px" y="184.80" x="434.72" textLength="56.94" lengthAdjust="spacingAndGlyphs">0,8</text>
<text class="n" style="font-size:43px" y="184.80" x="600.47" textLength="56.16" lengthAdjust="spacingAndGlyphs">1,2</text>
<text class="n" style="font-size:43px" y="184.80" x="760.47" textLength="56.16" lengthAdjust="spacingAndGlyphs">1,6</text>
<text y="184.80"><tspan class="n" style="font-size:43px" x="825.13" y="184.80" textLength="46.96" lengthAdjust="spacingAndGlyphs">Rp</tspan><tspan class="n" style="font-size:43px" x="874.23" y="184.80" textLength="31.29" lengthAdjust="spacingAndGlyphs"> 1</tspan><tspan class="n" style="font-size:43px" x="910.26" y="184.80" textLength="36.90" lengthAdjust="spacingAndGlyphs"> ¼</tspan></text>
<text class="b" style="font-size:40px" y="36.60" x="525.00" textLength="17.20" lengthAdjust="spacingAndGlyphs">v</text>
<text class="n" style="font-size:43px" y="867.00" x="103.85" textLength="20.47" lengthAdjust="spacingAndGlyphs">0</text>
<text class="n" style="font-size:43px" y="773.60" x="102.46" textLength="22.58" lengthAdjust="spacingAndGlyphs">1</text>
<text class="n" style="font-size:43px" y="678.00" x="103.16" textLength="21.83" lengthAdjust="spacingAndGlyphs">2</text>
<text class="n" style="font-size:43px" y="586.30" x="103.81" textLength="21.13" lengthAdjust="spacingAndGlyphs">3</text>
<text class="n" style="font-size:43px" y="489.50" x="104.44" textLength="19.85" lengthAdjust="spacingAndGlyphs">4</text>
<text class="n" style="font-size:43px" y="397.00" x="103.81" textLength="21.13" lengthAdjust="spacingAndGlyphs">5</text>
<text class="n" style="font-size:43px" y="301.00" x="103.16" textLength="21.83" lengthAdjust="spacingAndGlyphs">6</text>
<text y="236.80"><tspan class="bi" style="font-size:40px" x="44.39" y="236.80" textLength="28.32" lengthAdjust="spacingAndGlyphs">H</tspan><tspan class="bi sl" style="font-size:57px" x="75.47" y="241.70" textLength="13.43" lengthAdjust="spacingAndGlyphs">/</tspan><tspan class="b" style="font-size:40px" x="90.50" y="236.80">m</tspan></text>
<text class="b" style="font-size:40px" y="256.30" x="163.40" textLength="21.36" lengthAdjust="spacingAndGlyphs">3</text>
<text class="b" style="font-size:40px" y="480.90" x="164.21" textLength="21.25" lengthAdjust="spacingAndGlyphs">2</text>
<text class="b" style="font-size:40px" y="644.50" x="161.84" textLength="22.78" lengthAdjust="spacingAndGlyphs">1</text>
<text class="n" style="font-size:43px" y="893.80" x="123.78" textLength="21.80" lengthAdjust="spacingAndGlyphs">0</text>
<text class="n" style="font-size:43px" y="893.80" x="285.57" textLength="21.60" lengthAdjust="spacingAndGlyphs">1</text>
<text class="n" style="font-size:43px" y="893.80" x="457.76" textLength="21.83" lengthAdjust="spacingAndGlyphs">2</text>
<text class="n" style="font-size:43px" y="893.80" x="601.24" textLength="20.67" lengthAdjust="spacingAndGlyphs">3</text>
<text class="n" style="font-size:43px" y="893.80" x="773.81" textLength="21.14" lengthAdjust="spacingAndGlyphs">4</text>
<text y="893.80"><tspan class="b" style="font-size:40px" x="860.02" y="893.80" textLength="36.70" lengthAdjust="spacingAndGlyphs">m</tspan><tspan class="b" style="font-size:40px" x="897.24" y="896.20" textLength="16.15" lengthAdjust="spacingAndGlyphs">³</tspan><tspan class="bi sl" style="font-size:58px" x="914.80" y="899.20" textLength="14.23" lengthAdjust="spacingAndGlyphs">/</tspan><tspan class="b" style="font-size:40px" x="929.80" y="893.80" textLength="23.46" lengthAdjust="spacingAndGlyphs">h</tspan></text>
<text class="n" style="font-size:43px" y="951.40" x="124.76" textLength="22.02" lengthAdjust="spacingAndGlyphs">0</text>
<text class="n" style="font-size:43px" y="951.40" x="224.36" textLength="55.25" lengthAdjust="spacingAndGlyphs">0,2</text>
<text class="n" style="font-size:43px" y="951.40" x="339.71" textLength="57.32" lengthAdjust="spacingAndGlyphs">0,4</text>
<text class="n" style="font-size:43px" y="951.40" x="459.69" textLength="58.42" lengthAdjust="spacingAndGlyphs">0,6</text>
<text class="n" style="font-size:43px" y="951.40" x="576.74" textLength="55.89" lengthAdjust="spacingAndGlyphs">0,8</text>
<text class="n" style="font-size:43px" y="951.40" x="692.43" textLength="57.20" lengthAdjust="spacingAndGlyphs">1,0</text>
<text class="n" style="font-size:43px" y="951.40" x="813.47" textLength="56.16" lengthAdjust="spacingAndGlyphs">1,2</text>
<text y="951.40"><tspan class="b" style="font-size:40px" x="907.60" y="951.40" textLength="10.67" lengthAdjust="spacingAndGlyphs">l</tspan><tspan class="bi sl" style="font-size:58px" x="919.78" y="956.20" textLength="14.09" lengthAdjust="spacingAndGlyphs">/</tspan><tspan class="b" style="font-size:40px" x="934.75" y="951.40" textLength="18.60" lengthAdjust="spacingAndGlyphs">s</tspan></text>
<text class="bi" style="font-size:40px" y="985.80" x="527.11" textLength="31.38" lengthAdjust="spacingAndGlyphs">Q</text>
</svg></body></html>
